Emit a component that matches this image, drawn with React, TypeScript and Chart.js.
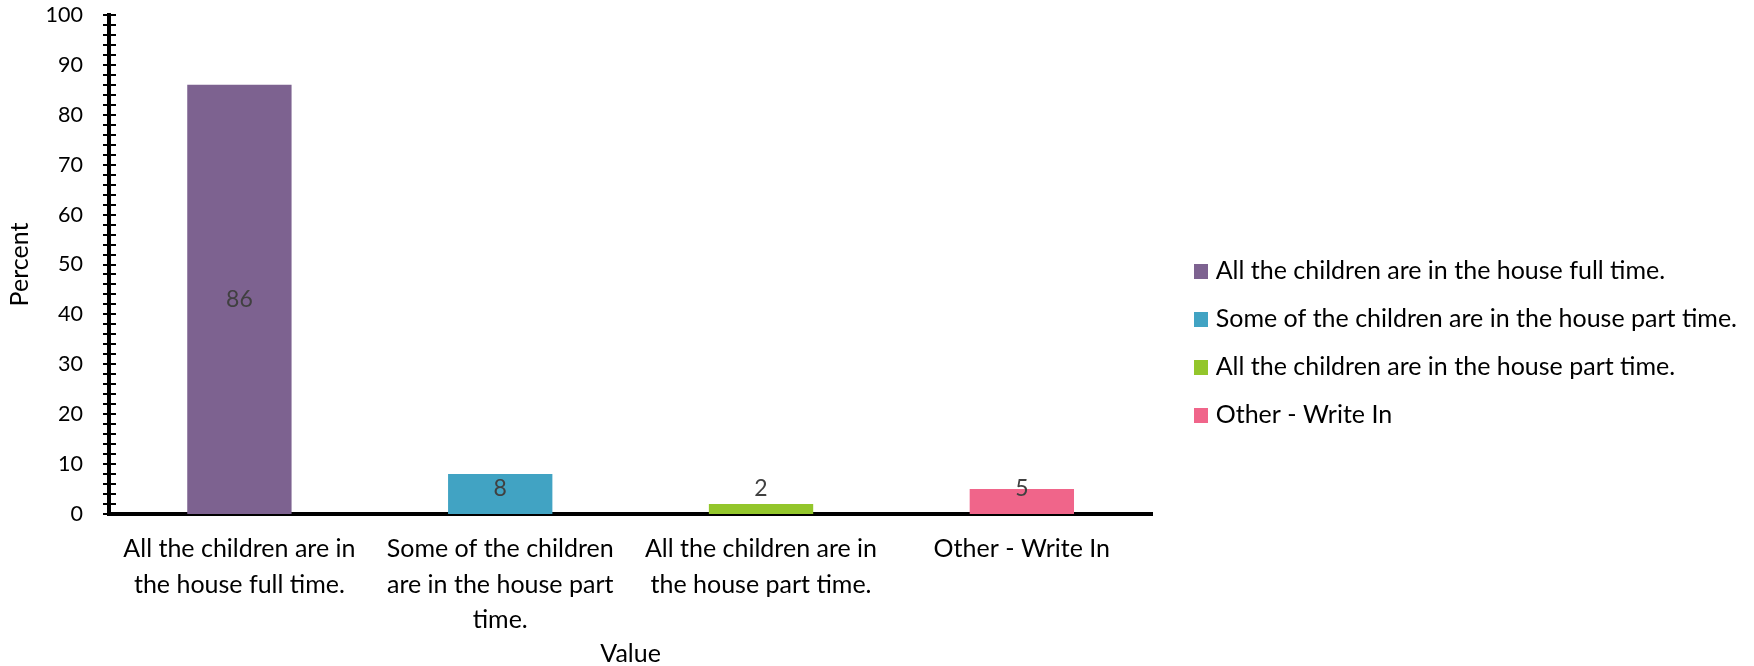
import React, { useEffect, useRef } from "react";
import { Chart, registerables } from "chart.js";

Chart.register(...registerables);

const categories: (string | string[])[] = [
  ["All the children are in", "the house full time."],
  ["Some of the children", "are in the house part", "time."],
  ["All the children are in", "the house part time."],
  ["Other - Write In"],
];
const legendNames: string[] = [
  "All the children are in the house full time.",
  "Some of the children are in the house part time.",
  "All the children are in the house part time.",
  "Other - Write In",
];
const values: number[] = [86, 8, 2, 5];
const barColors: string[] = ["#7D6290", "#41A3C3", "#93C62B", "#F0658A"];
const yMin = 0;
const yMax = 100;
const yStep = 2;
const yLabelStep = 10;

const FONT = "Lato";
const LEGEND_FONT = 25;
const LEGEND_GAP_BOX = 6;

const crossTicks = {
  id: "crossTicks",
  afterDraw(chart: any) {
    const s = chart.scales.y;
    const ctx = chart.ctx;
    ctx.save();
    ctx.strokeStyle = "#000";
    ctx.lineWidth = 2;
    s.ticks.forEach((t: any) => {
      const y = Math.round(s.getPixelForValue(t.value));
      ctx.beginPath();
      ctx.moveTo(s.right - 6, y);
      ctx.lineTo(s.right + 7, y);
      ctx.stroke();
    });
    ctx.restore();
  },
};

const legendSquares = {
  id: "legendSquares",
  afterDraw(chart: any) {
    const lg = chart.legend;
    if (!lg || !lg.legendHitBoxes) return;
    const ctx = chart.ctx;
    ctx.save();
    lg.legendHitBoxes.forEach((hb: any, i: number) => {
      const textStart = hb.left + LEGEND_GAP_BOX + LEGEND_FONT / 2;
      const cy = hb.top + hb.height / 2;
      ctx.fillStyle = barColors[i];
      ctx.fillRect(Math.round(textStart - 22), Math.round(cy - 7), 14, 15);
    });
    ctx.restore();
  },
};

const barLabels = {
  id: "barLabels",
  afterDatasetsDraw(chart: any) {
    const ctx = chart.ctx;
    const meta = chart.getDatasetMeta(0);
    const ds = chart.data.datasets[0];
    ctx.save();
    ctx.font = `23px ${FONT}`;
    ctx.fillStyle = "#404040";
    ctx.textAlign = "center";
    ctx.textBaseline = "middle";
    meta.data.forEach((bar: any, i: number) => {
      const mid = (bar.y + bar.base) / 2;
      const y = Math.min(mid, bar.base - 25);
      ctx.fillText(String(ds.data[i]), bar.x, y);
    });
    ctx.restore();
  },
};

export default function App() {
  const ref = useRef<HTMLCanvasElement | null>(null);
  useEffect(() => {
    if (!ref.current) return;
    const chart = new Chart(ref.current, {
      type: "bar",
      data: {
        labels: categories,
        datasets: [
          {
            label: "Percent",
            data: values,
            backgroundColor: barColors,
            barPercentage: 0.4,
            categoryPercentage: 1,
          },
        ],
      },
      options: {
        animation: false,
        responsive: true,
        maintainAspectRatio: false,
        layout: { padding: { top: 8, bottom: 0, left: 0, right: 7 } },
        plugins: {
          tooltip: { enabled: false },
          legend: {
            position: "right",
            maxWidth: 700,
            title: {
              display: true,
              text: " ",
              color: "#000",
              font: { family: FONT, size: 11, lineHeight: 1 },
              padding: 0,
            },
            labels: {
              font: { family: FONT, size: LEGEND_FONT },
              color: "#000",
              boxWidth: LEGEND_GAP_BOX,
              boxHeight: 14,
              padding: 23,
              generateLabels: () =>
                legendNames.map((n, i) => ({
                  text: n,
                  fillStyle: "rgba(0,0,0,0)",
                  strokeStyle: "rgba(0,0,0,0)",
                  fontColor: "#000",
                  lineWidth: 0,
                  hidden: false,
                  index: i,
                })),
            },
          },
        },
        scales: {
          x: {
            grid: { display: false, drawTicks: false },
            border: { display: true, color: "#000", width: 4 },
            ticks: {
              color: "#000",
              font: { family: FONT, size: 25, lineHeight: 1.43 },
              padding: 17,
              maxRotation: 0,
              autoSkip: false,
            },
            title: {
              display: true,
              text: "Value",
              color: "#000",
              font: { family: FONT, size: 25, lineHeight: 1 },
              padding: { top: 0, bottom: 0 },
            },
            afterFit: (s: any) => {
              s.height = 152;
            },
          },
          y: {
            min: yMin,
            max: yMax,
            grid: { display: false, drawTicks: false },
            border: { display: true, color: "#000", width: 4 },
            ticks: {
              stepSize: yStep,
              autoSkip: false,
              color: "#000",
              font: { family: FONT, size: 21.5 },
              padding: 26,
              callback: (v: any) => (Number(v) % yLabelStep === 0 ? String(v) : ""),
            },
            title: {
              display: true,
              text: "Percent",
              color: "#000",
              font: { family: FONT, size: 25 },
              padding: { top: 5, bottom: 0 },
            },
            afterFit: (s: any) => {
              s.width = 109;
              s.paddingTop = 15;
              s.paddingBottom = 0;
            },
          },
          pad: {
            type: "linear",
            position: "right",
            display: true,
            grid: { display: false, drawTicks: false },
            border: { display: false },
            ticks: { display: false },
            afterFit: (s: any) => {
              s.width = 22;
              s.paddingTop = 0;
              s.paddingBottom = 0;
            },
          },
        },
      },
      plugins: [crossTicks, barLabels, legendSquares],
    });
    return () => chart.destroy();
  }, []);
  return (
    <div style={{ position: "absolute", left: 0, top: 0, width: 1754, height: 666, background: "#fff" }}>
      <canvas ref={ref} />
    </div>
  );
}
